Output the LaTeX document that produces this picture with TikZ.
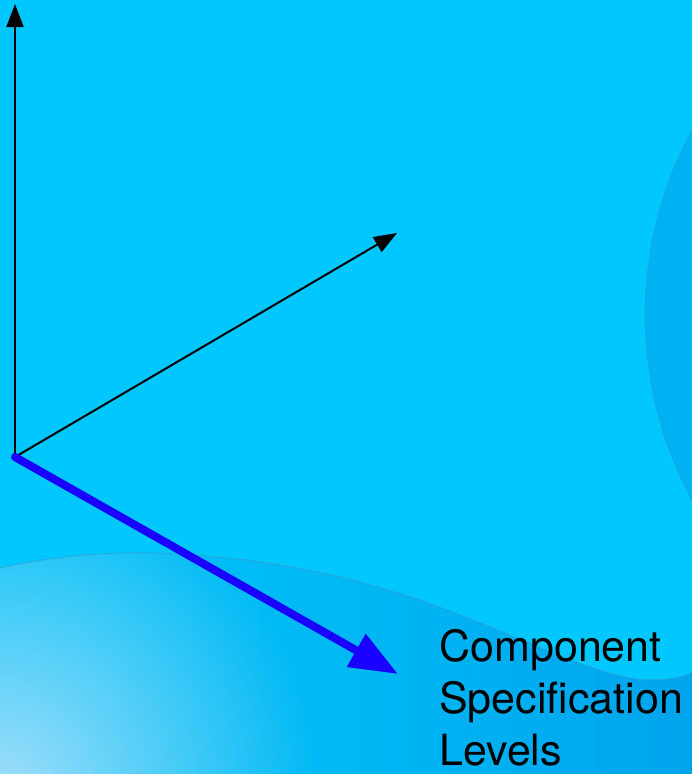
\documentclass[tikz,border=0pt]{standalone}
\usepackage{fontspec}
\setmainfont{TeX Gyre Heros}
\usetikzlibrary{arrows.meta,fadings}
\definecolor{bgc}{RGB}{0,200,255}
\definecolor{wavel}{RGB}{0,194,248}
\definecolor{wavem}{RGB}{0,184,244}
\definecolor{waver}{RGB}{0,164,236}
\definecolor{lightc}{RGB}{160,222,250}
\definecolor{blobl}{RGB}{0,178,244}
\definecolor{blobr}{RGB}{0,156,230}
\definecolor{edgec}{RGB}{60,150,200}
\definecolor{bluearr}{RGB}{26,0,255}
\tikzfading[name=radfade, inner color=transparent!0, outer color=transparent!100]
\tikzset{
  axis/.style={line width=2pt, -{Triangle[length=23pt,width=17pt]}},
  levelaxis/.style={draw=bluearr, line width=8pt, line cap=round, -{Triangle[length=48pt,width=36pt]}},
  lbl/.style={font=\fontsize{43}{52}\selectfont, anchor=base west, inner sep=0pt, text=black},
  edgeline/.style={draw=edgec, line width=1pt, opacity=0.55}
}
\newcommand{\waveedge}{(0,568) .. controls (50,557) and (100,552) .. (150,553) .. controls (250,556) and (330,570) .. (420,600) .. controls (520,635) and (600,680) .. (650,680) .. controls (670,680) and (685,677) .. (692,672)}
\begin{document}
\begin{tikzpicture}[x=1pt,y=-1pt]
\useasboundingbox (0,0) rectangle (692,774);
\fill[bgc] (0,0) rectangle (692,774);
% right blob
\begin{scope}
\clip (0,0) rectangle (692,774);
\shade[left color=blobl, right color=blobr] (1033,315) circle (388);
\draw[edgeline, opacity=0.45, line width=0.8pt] (1033,315) circle (388);
\end{scope}
% bottom wave
\begin{scope}
\clip \waveedge -- (692,774) -- (0,774) -- cycle;
\shade[left color=wavel, right color=waver, middle color=wavem] (0,540) rectangle (692,774);
\fill[lightc, path fading=radfade] (0,790) circle (320);
\end{scope}
\draw[edgeline] \waveedge;
% axes
\coordinate (O) at (15,457);
\coordinate (Y) at (15,4);
\coordinate (D) at (397,233);
\coordinate (B) at (398,674);
\draw[axis] (O) -- (Y);
\draw[axis] (O) -- (D);
\draw[levelaxis] (O) -- (B);
\node[lbl] (l1) at (439,661) {Component};
\node[lbl] (l2) at (439,713) {Specification};
\node[lbl] (l3) at (439,765) {Levels};
\end{tikzpicture}
\end{document}
